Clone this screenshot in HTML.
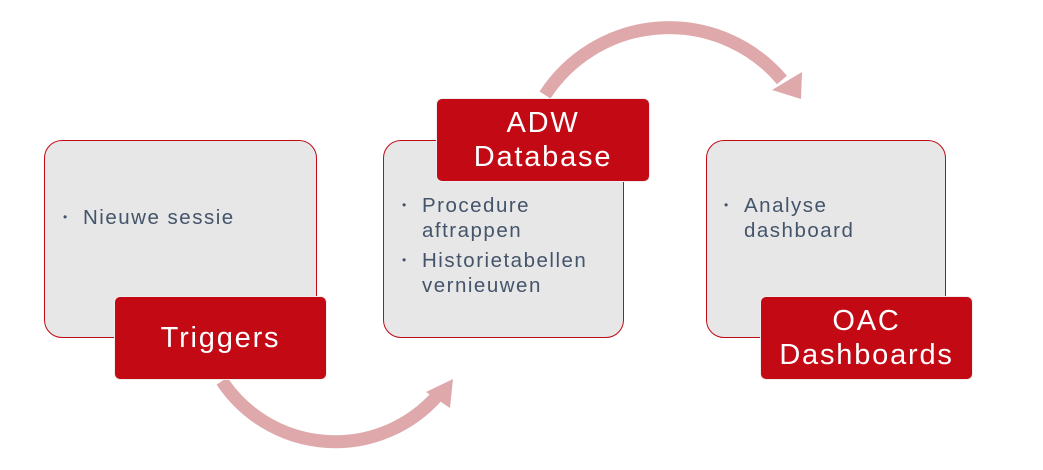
<!DOCTYPE html>
<html><head><style>
body{margin:0;width:1043px;height:470px;background:#fff;position:relative;overflow:hidden;font-family:"Liberation Sans",sans-serif}
.box{position:absolute;background:#e7e7e7;border:1.5px solid #c00a14;border-radius:18px;box-sizing:border-box}
.lab{position:absolute;background:#c30914;border:1.5px solid #eee;border-radius:6px;box-sizing:border-box;color:#fff;font-size:29px;letter-spacing:1.8px;display:flex;align-items:center;justify-content:center;text-align:center;line-height:34px}
.t{position:absolute;color:#44546a;font-size:20.5px;letter-spacing:1.5px;line-height:25px;white-space:nowrap}
.t span{position:absolute;left:-20px;font-size:12px;letter-spacing:0}
svg{position:absolute;left:0;top:0}
</style></head><body>
<svg width="1043" height="470">
<path d="M545,95 A148,148 0 0 1 782,80" fill="none" stroke="#dfa9ab" stroke-width="13"/>
<polygon points="801,99 772,90 802,72" fill="#dfa9ab"/>
<path d="M222,381 A136,136 0 0 0 437,396" fill="none" stroke="#dfa9ab" stroke-width="13"/>
<polygon points="453,379 450,408 426,392" fill="#dfa9ab"/>
</svg>
<div class="box" style="left:44px;top:140px;width:273px;height:198px"></div>
<div class="box" style="left:383px;top:140px;width:241px;height:198px"></div>
<div class="box" style="left:706px;top:140px;width:240px;height:198px"></div>
<div class="t" style="left:83px;top:205px"><span>•</span>Nieuwe sessie</div>
<div class="t" style="left:422px;top:193px"><span>•</span>Procedure<br>aftrappen</div>
<div class="t" style="left:422px;top:248px"><span>•</span>Historietabellen<br>vernieuwen</div>
<div class="t" style="left:744px;top:193px"><span>•</span>Analyse<br>dashboard</div>
<div class="lab" style="left:114px;top:296px;width:213px;height:84px">Triggers</div>
<div class="lab" style="left:436px;top:98px;width:214px;height:84px">ADW<br>Database</div>
<div class="lab" style="left:760px;top:296px;width:213px;height:84px">OAC<br>Dashboards</div>
</body></html>
